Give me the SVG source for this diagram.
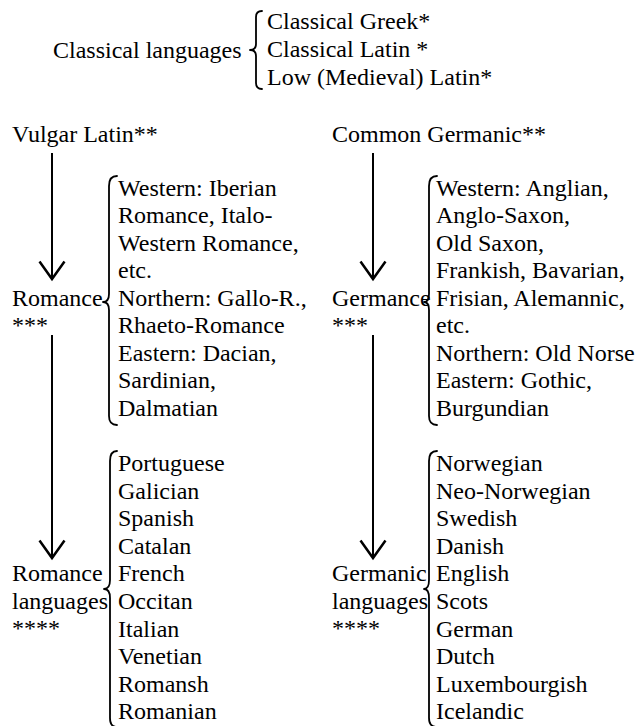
<svg xmlns="http://www.w3.org/2000/svg" width="639" height="726" viewBox="0 0 639 726">
<defs>
<style>
text{font-family:"Liberation Serif","Times New Roman",serif;font-size:24px;fill:#000}
.brace{fill:none;stroke:#000;stroke-width:1.8;stroke-linejoin:round;stroke-linecap:round}
.arrow{fill:none;stroke:#000;stroke-width:2}
</style>
<marker id="ah" markerUnits="userSpaceOnUse" markerWidth="30" markerHeight="30" viewBox="-16 -12 18 24" refX="0" refY="0" orient="auto" overflow="visible">
<path d="M-14,-10 L0,0 L-14,10" fill="none" stroke="#000" stroke-width="2"/>
</marker>
</defs>
<rect width="639" height="726" fill="#fff"/>

<g id="classical">
<text x="53" y="58">Classical languages</text>
<path class="brace" d="M262,11 Q256,11 256,17 L256,44 Q256,50 250,50 Q256,50 256,56 L256,83 Q256,89 262,89"/>
<text x="267" y="29">Classical Greek*</text>
<text x="267" y="57">Classical Latin *</text>
<text x="267" y="85">Low (Medieval) Latin*</text>
</g>

<g id="vulgar-latin">
<text x="12" y="142">Vulgar Latin**</text>
</g>

<g id="romance">
<text x="12" y="305.5">Romance</text>
<text x="12" y="333">***</text>
<path class="brace" d="M117,176 Q109,176 109,186 L109,294 Q109,302 103,302 Q109,302 109,310 L109,416 Q109,425 117,425"/>
<text x="118" y="195.5">Western: Iberian</text>
<text x="118" y="223">Romance, Italo-</text>
<text x="118" y="250.5">Western Romance,</text>
<text x="118" y="278">etc.</text>
<text x="118" y="305.5">Northern: Gallo-R.,</text>
<text x="118" y="333">Rhaeto-Romance</text>
<text x="118" y="360.5">Eastern: Dacian,</text>
<text x="118" y="388">Sardinian,</text>
<text x="118" y="415.5">Dalmatian</text>
</g>

<g id="romance-languages">
<text x="12" y="581">Romance</text>
<text x="12" y="609">languages</text>
<text x="12" y="636">****</text>
<path class="brace" d="M117,451 Q110,451 110,461 L110,580 Q110,589 104,589 Q110,589 110,598 L110,718 Q110,727 117,727"/>
<text x="118" y="471">Portuguese</text>
<text x="118" y="498.6">Galician</text>
<text x="118" y="526.2">Spanish</text>
<text x="118" y="553.8">Catalan</text>
<text x="118" y="581.4">French</text>
<text x="118" y="609">Occitan</text>
<text x="118" y="636.6">Italian</text>
<text x="118" y="664.2">Venetian</text>
<text x="118" y="691.8">Romansh</text>
<text x="118" y="719.4">Romanian</text>
</g>

<g id="common-germanic">
<text x="332" y="142">Common Germanic**</text>
</g>

<g id="germance">
<text x="332" y="305.5">Germance</text>
<text x="332" y="333">***</text>
<path class="brace" d="M437,176 Q429,176 429,186 L429,294 Q429,302 424,302 Q429,302 429,310 L429,416 Q429,425 437,425"/>
<text x="436" y="195.5">Western: Anglian,</text>
<text x="436" y="223">Anglo-Saxon,</text>
<text x="436" y="250.5">Old Saxon,</text>
<text x="436" y="278">Frankish, Bavarian,</text>
<text x="436" y="305.5">Frisian, Alemannic,</text>
<text x="436" y="333">etc.</text>
<text x="436" y="360.5">Northern: Old Norse</text>
<text x="436" y="388">Eastern: Gothic,</text>
<text x="436" y="415.5">Burgundian</text>
</g>

<g id="germanic-languages">
<text x="332" y="581">Germanic</text>
<text x="332" y="609">languages</text>
<text x="332" y="636">****</text>
<path class="brace" d="M437,451 Q429,451 429,461 L429,580 Q429,589 424,589 Q429,589 429,598 L429,718 Q429,727 437,727"/>
<text x="436" y="471">Norwegian</text>
<text x="436" y="498.6">Neo-Norwegian</text>
<text x="436" y="526.2">Swedish</text>
<text x="436" y="553.8">Danish</text>
<text x="436" y="581.4">English</text>
<text x="436" y="609">Scots</text>
<text x="436" y="636.6">German</text>
<text x="436" y="664.2">Dutch</text>
<text x="436" y="691.8">Luxembourgish</text>
<text x="436" y="719.4">Icelandic</text>
</g>

<g id="connectors">
<path class="arrow" d="M52,153 L52,279" marker-end="url(#ah)"/>
<path class="arrow" d="M52,335 L52,558" marker-end="url(#ah)"/>
<path class="arrow" d="M373,153 L373,279" marker-end="url(#ah)"/>
<path class="arrow" d="M373,335 L373,558" marker-end="url(#ah)"/>
</g>
</svg>
